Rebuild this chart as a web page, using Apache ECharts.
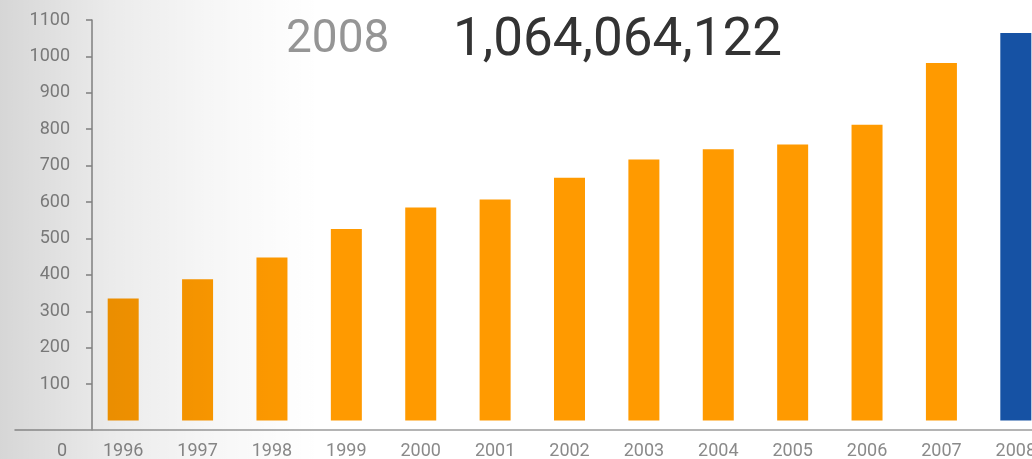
<!DOCTYPE html>
<html>
<head>
<meta charset="utf-8">
<script src="https://cdn.jsdelivr.net/npm/echarts@6/dist/echarts.min.js"></script>
<style>
  html, body { margin: 0; padding: 0; background: #fff; }
  #chart { width: 1032px; height: 459px; }
</style>
</head>
<body>
<div id="chart"></div>
<script>
// Yearly totals, in millions; the latest year is given as an exact count.
const years = ['1996', '1997', '1998', '1999', '2000', '2001', '2002',
               '2003', '2004', '2005', '2006', '2007', '2008'];
const latestTotal = 1064064122;
const totals = [335, 388, 448, 526, 585, 607, 667, 717, 745, 758, 812, 982,
                latestTotal / 1e6];
const yTicks = [100, 200, 300, 400, 500, 600, 700, 800, 900, 1000, 1100];
const zeroLabel = '0';

const ORANGE = '#ff9a00';
const BLUE = '#1652a4';
const FONT = 'Roboto, "DejaVu Sans", sans-serif';
const latestYear = years[years.length - 1];

const chart = echarts.init(document.getElementById('chart'), null, { renderer: 'canvas' });

chart.setOption({
  backgroundColor: '#ffffff',
  animation: false,
  title: [
    {
      text: latestYear,
      left: 286, top: 17, padding: 0, z: 100,
      textStyle: { fontFamily: FONT, fontSize: 46, fontWeight: 'normal', color: '#959595' }
    },
    {
      text: latestTotal.toLocaleString('en-US'),
      left: 453, top: 15, padding: 0, z: 100,
      textStyle: { fontFamily: FONT, fontSize: 53, fontWeight: 'normal', color: '#333333' }
    }
  ],
  grid: [
    // the last category band runs past the right edge, so the 2008 bar is cut
    { left: 86, width: 967, top: 20, bottom: 29, outerBoundsMode: 'none' },
    { left: 15, right: 0, bottom: 29, height: 1, outerBoundsMode: 'none' }
  ],
  xAxis: [
    {
      type: 'category',
      gridIndex: 0,
      data: years,
      boundaryGap: true,
      axisLine: { show: false },
      axisTick: { show: false },
      axisLabel: {
        margin: 12,
        fontFamily: FONT, fontSize: 18, color: '#8a8a8a'
      }
    },
    {
      type: 'value',
      gridIndex: 1,
      min: 0, max: 1,
      axisLine: { show: true, lineStyle: { color: '#9c9c9c', width: 1.5 } },
      axisTick: { show: false },
      axisLabel: { show: false },
      splitLine: { show: false }
    }
  ],
  yAxis: [
    {
      type: 'value',
      gridIndex: 0,
      min: -26,
      max: 1100,
      offset: -6,
      name: zeroLabel,
      nameLocation: 'start',
      nameGap: 12,
      nameTextStyle: {
        fontFamily: FONT, fontSize: 18, color: '#8a8a8a',
        align: 'right', verticalAlign: 'top', padding: [0, 25, 0, 0]
      },
      axisLine: { show: true, lineStyle: { color: '#8c8c8c', width: 1.5 } },
      axisTick: {
        show: true, inside: false, length: 6,
        customValues: yTicks,
        lineStyle: { color: '#8c8c8c', width: 1.5 }
      },
      axisLabel: {
        customValues: yTicks,
        formatter: v => String(v),
        margin: 22,
        fontFamily: FONT, fontSize: 18, color: '#8a8a8a'
      },
      splitLine: { show: false }
    },
    {
      type: 'value',
      gridIndex: 1,
      show: false
    }
  ],
  series: [
    {
      type: 'bar',
      xAxisIndex: 0,
      yAxisIndex: 0,
      data: totals,
      barWidth: 31,
      itemStyle: {
        color: p => (p.name === latestYear ? BLUE : ORANGE)
      }
    }
  ],
  // soft grey shading that fades out from the left edge
  graphic: [
    {
      type: 'rect',
      silent: true,
      z: 50,
      shape: { x: 0, y: 0, width: 320, height: 459 },
      style: {
        fill: new echarts.graphic.LinearGradient(0, 0, 1, 0, [
          { offset: 0, color: 'rgba(0,0,0,0.16)' },
          { offset: 0.35, color: 'rgba(0,0,0,0.08)' },
          { offset: 0.65, color: 'rgba(0,0,0,0.035)' },
          { offset: 1, color: 'rgba(0,0,0,0)' }
        ])
      }
    }
  ]
});
</script>
</body>
</html>
